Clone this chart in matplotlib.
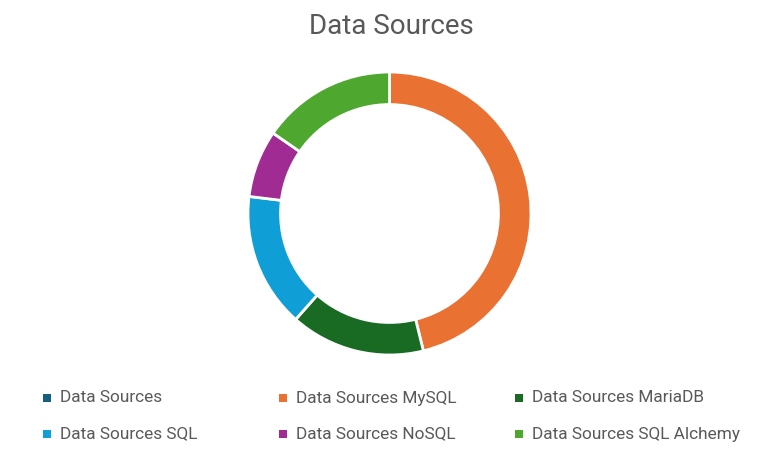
import matplotlib
matplotlib.use("Agg")
import matplotlib.pyplot as plt
from matplotlib.patches import Rectangle

labels = ["Data Sources", "Data Sources MySQL", "Data Sources MariaDB",
          "Data Sources SQL", "Data Sources NoSQL", "Data Sources SQL Alchemy"]
values = [0, 6, 2, 2, 1, 2]
colors = ["#156082", "#E97132", "#196B24", "#0F9ED5", "#A02B93", "#4EA72E"]
title = "Data Sources"

W, H = 766, 457
fig = plt.figure(figsize=(W / 100, H / 100), dpi=100)
plt.rcParams['font.family'] = ['Roboto', 'DejaVu Sans']

cx, cy, r = 389.5, 213.5, 141.5
ax = fig.add_axes([(cx - r) / W, (H - cy - r) / H, 2 * r / W, 2 * r / H])
wedges, _ = ax.pie(values, colors=colors, startangle=90, counterclock=False,
                   radius=1.0,
                   wedgeprops=dict(width=0.23, edgecolor="white", linewidth=2))
ax.set_xlim(-1, 1)
ax.set_ylim(-1, 1)
ax.set_aspect("equal")
ax.axis("off")

fig.text(391 / W, 1 - 27 / H, title, ha="center", va="center",
         fontsize=20, color="#595959")

xs = [47, 283, 519]
ys = [398, 434]
for i, (lab, col) in enumerate(zip(labels, colors)):
    x = xs[i % 3]
    y = ys[i // 3]
    s = 7.5
    fig.add_artist(Rectangle(((x - s / 2) / W, 1 - (y + s / 2) / H), s / W, s / H,
                             transform=fig.transFigure, facecolor=col,
                             edgecolor="none"))
    fig.text((x + 13) / W, 1 - y / H, lab, ha="left", va="center",
             fontsize=12.4, color="#595959")

fig.savefig("out.png", dpi=100, facecolor="white")
